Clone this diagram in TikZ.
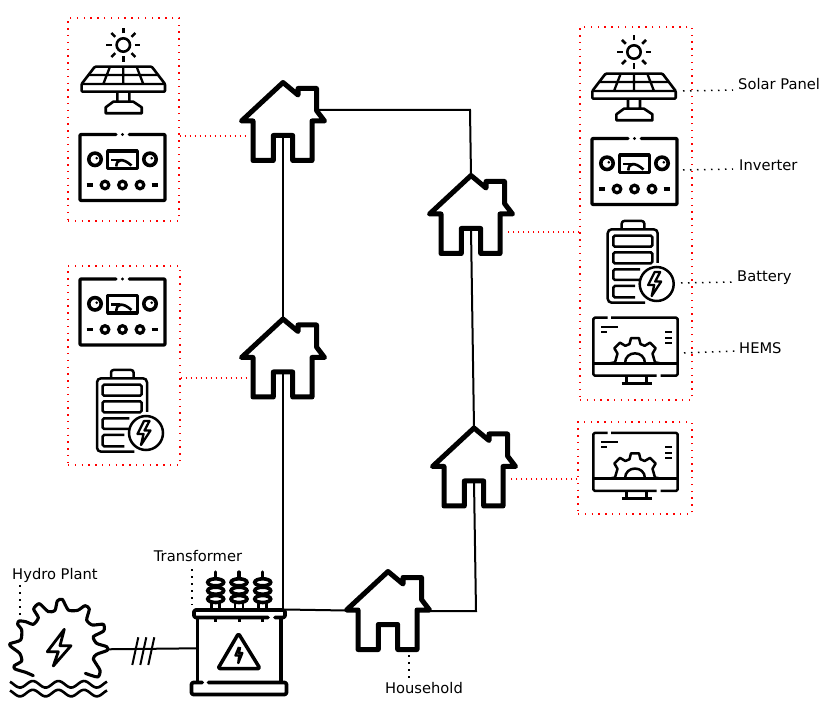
\documentclass[tikz,border=0pt]{standalone}
\usepackage{fontspec}
\setmainfont{DejaVu Sans}
\usetikzlibrary{calc}
\tikzset{
  wire/.style={line width=2pt,black},
  redbox/.style={draw=red,line width=1.4pt,dash pattern=on 1.4pt off 5.4pt},
  redlink/.style={red,line width=1.2pt,dash pattern=on 1.4pt off 3.6pt},
  leader/.style={black,line width=1.5pt,dash pattern=on 1.5pt off 5.5pt},
  lbl/.style={font=\fontsize{14.7pt}{16pt}\selectfont,inner sep=0pt,text=black},
  house/.pic={
    \draw[line width=5pt,line join=round,line cap=round]
      (0,0) -- (15,12.5) -- (15,6) -- (33.5,6) -- (33.5,28) -- (41.5,38.5) -- (29,38.5)
      -- (29,78) -- (9.7,78) -- (9.7,53) -- (-9.7,53) -- (-9.7,78) -- (-30,78)
      -- (-30,38.5) -- (-41.5,38.5) -- cycle;
    \coordinate (-apex) at (0,0);
    \coordinate (-door) at (0,53);
  },
  solarpanel/.pic={
    % sun with eight rays, origin at its centre
    \draw[line width=2.6pt] (0,0) circle (6.7);
    \foreach \a in {0,45,...,315}
      \draw[line width=2.5pt] (\a:11.5) -- (\a:17);
    % photovoltaic sheet
    \draw[line width=2.6pt,line join=round,rounded corners=1pt]
      (-28.5,21.7) -- (28.5,21.7) -- (41.7,39) -- (41.7,46.7) -- (-41.7,46.7) -- (-41.7,39) -- cycle;
    \draw[line width=2.3pt] (-41.7,39) -- (41.7,39) (-35,30) -- (35,30)
      (-13.3,21.7) -- (-20,39) (0,21.7) -- (0,39) (13.3,21.7) -- (20,39);
    % stand
    \draw[line width=2.6pt,line join=round] (-6,46.7) -- (-6,56.7) (6,46.7) -- (6,56.7)
      (-10,56.7) -- (10,56.7) -- (18.4,62.3) -- (18.4,68.3) -- (-17.6,68.3) -- (-17.6,62.3) -- cycle;
  },
  inverter/.pic={
    \draw[line width=3.4pt,line join=round,line cap=round,rounded corners=1pt]
      (-6.5,-33) -- (-42.5,-33) -- (-42.5,33) -- (42.5,33) -- (42.5,-33) -- (6.8,-33);
    \fill (0,-33) circle (1.7);
    \draw[line width=3.6pt] (-27.5,-8.2) circle (6.2) (27.5,-8.2) circle (6.2);
    \draw[line width=1.8pt] (-26.5,-10) -- (-25,-8.5) (28.5,-10) -- (30,-8.5);
    \draw[line width=3.4pt,line join=round] (-14.8,-16.5) rectangle (14.8,1);
    \draw[line width=2.6pt] (-11.2,-7.5) -- (-3,-7.5);
    \draw[line width=2.6pt] (-6.2,-1) .. controls (-6,-8.5) and (0,-10) .. (9,-2);
    \draw[line width=3.2pt] (-17.5,17.5) circle (3.8) (0,17.5) circle (3.8) (17.5,17.5) circle (3.8);
    \draw[line width=3.2pt] (-35.8,17.5) -- (-29.2,17.5) (29.2,17.5) -- (35.8,17.5);
  },
  battery/.pic={
    \draw[line width=2.5pt,line join=round,rounded corners=2.5pt]
      (-11,-36.7) -- (-11,-45) -- (11.6,-45) -- (11.6,-36.7);
    \draw[line width=2.5pt,rounded corners=4pt]
      (12.3,36.7) -- (-25,36.7) -- (-25,-36.7) -- (25,-36.7) -- (25,-3);
    \foreach \t/\b in {-30.3/-19.3,-13.7/-2.7}
      \draw[line width=2.5pt,rounded corners=1.5pt] (-19.4,\t) rectangle (19.6,\b);
    \draw[line width=2.5pt,rounded corners=1.5pt] (7.3,3.3) -- (-19.4,3.3) -- (-19.4,14) -- (7.3,14);
    \draw[line width=2.5pt,rounded corners=1.5pt] (2.3,20) -- (-19.4,20) -- (-19.4,31.3) -- (2.3,31.3);
    \draw[line width=2.5pt] (24,18) circle (17);
    \draw[line width=2.3pt,line join=round]
      (22,6) -- (15.5,19) -- (21.5,19) -- (19,30) -- (28.5,15.5) -- (22.5,15.5) -- (27.5,6) -- cycle;
  },
  hems/.pic={
    % monitor outline, origin at the centre of the screen divider
    \draw[line width=2.5pt,line join=round,rounded corners=1.5pt]
      (-27.3,-45.6) -- (-41.7,-45.6) -- (-41.7,12.4) -- (21.7,12.4)
      (25.7,12.4) -- (42.7,12.4) -- (42.7,-45.6) -- (-24,-45.6);
    \draw[line width=2.5pt] (-41.7,0) -- (42.7,0);
    \draw[line width=2.5pt] (-8.3,12.4) -- (-8.3,20) (11.7,12.4) -- (11.7,20) (-13.3,20) -- (16.7,20);
    \draw[line width=2pt] (-34,-36.6) -- (-16.7,-36.6) (-34,-31.3) -- (-27.7,-31.3)
      (30,-31) -- (37.3,-31) (30,-25.6) -- (37.3,-25.6) (30,-20) -- (37.3,-20);
    % half gear standing on the divider
    \draw[line width=2.5pt,line join=round]
      (-25,0) -- (-20,-1)
      \foreach \a in {-135,-90,-45} { -- (\a-16:20) -- (\a-9:25.5) -- (\a+9:25.5) -- (\a+16:20) }
      -- (20,-1) -- (25,0);
    \draw[line width=2.5pt] (-10,0) .. controls (-10,-13.3) and (10,-13.3) .. (10,0);
  },
  bushing/.pic={
    \draw[line width=3.2pt,line cap=round] (0,1) -- (0,8);
    \foreach \y in {11.3,19.7,28}
      \draw[line width=3.6pt,fill=white] (0,\y) ellipse (8 and 3.5);
    \draw[line width=2.6pt] (-4,31) -- (-4,37) (4,31) -- (4,37);
    \draw[line width=3pt] (0,45) -- (0,51);
  },
}
\begin{document}
\begin{tikzpicture}[x=1pt,y=-1pt]
\useasboundingbox (0,0) rectangle (831,719);

% houses
\pic (h1) at (283,82.5) {house};
\pic (h2) at (283,319) {house};
\pic (h3) at (471,175.5) {house};
\pic (h4) at (474,428) {house};
\pic (h5) at (388,571.5) {house};

% transformer
\foreach \x in {215.7,239,262.7} \pic at (\x,571) {bushing};
\draw[line width=3.6pt,line join=round,line cap=round,rounded corners=1.5pt]
  (268,617.5) -- (194,617.5) -- (194,610) -- (285,610) -- (285,617.5) -- (275,617.5);
\draw[line width=3.5pt] (197.7,618) -- (197.7,681) (281,618) -- (281,681);
\draw[line width=3.6pt,line join=round,line cap=round,rounded corners=1.5pt]
  (202.3,682.5) -- (191.5,682.5) -- (191.5,694.5) -- (286.5,694.5) -- (286.5,682.5) -- (208.3,682.5);
\draw[line width=3.5pt,line join=round,rounded corners=1.5pt]
  (238.5,633.5) -- (260,668.5) -- (218,668.5) -- cycle;
\draw[line width=2.4pt,line join=round]
  (239,647) -- (235.5,655.5) -- (239.3,655.5) -- (238.3,663) -- (242.3,653) -- (239,653) -- (240,647);

% hydro plant: cog wheel, bolt and water
\begin{scope}[xshift=5pt,yshift=-595pt,x=0.3333pt,y=-0.3333pt]
\draw[line width=3.1pt,line join=round,line cap=round]
  plot[smooth,tension=0.4] coordinates {
    (85,242) (62,232) (30,222) (28,212) (50,198) (44,175) (18,155) (15,146) (47,135)
    (50,105) (38,88) (42,78) (62,80) (85,88) (100,68) (86,42) (103,26) (130,50)
    (150,46) (157,18) (172,13) (190,45) (218,46) (240,32) (253,42) (245,75) (262,90)
    (295,88) (296,108) (265,125) (275,145) (305,155) (307,166) (275,178) (265,192)
    (285,226) (278,246) (241,235)};
\end{scope}
\draw[line width=2.8pt,line join=round]
  (64.3,629.3) -- (47.3,651.7) -- (58.3,651.7) -- (53.3,666) -- (71,645.7) -- (60,645.7) -- cycle;
\foreach \y in {684.3,693.1}
  \draw[line width=2.6pt] plot[smooth,domain=-0.39:3.4,samples=46] ({20+\x*25.6},{\y+3.3*cos(360*\x)});

% power lines
\coordinate (busL) at (285,609.5);
\coordinate (corner) at (470,110);
\coordinate (roof) at (317,110);
\coordinate (turn) at (476,611);
\coordinate (eave) at (430,611);
\coordinate (gridIn) at (346,610.5);
\coordinate (genOut) at (106.7,649.3);
\coordinate (trIn) at (196.7,648.3);
\coordinate (trTop) at (283,609.5);
\draw[wire] (h1-door) -- (h2-apex);
\draw[wire] (h2-door) -- (trTop);
\draw[wire] (busL) -- (gridIn);
\draw[wire] (roof) -- (corner) -- (h3-apex);
\draw[wire] (h3-door) -- (h4-apex);
\draw[wire] (h4-door) -- (turn) -- (eave);
\draw[wire] (genOut) -- (trIn);
\foreach \x in {0,8,16}
  \draw[wire] (132.3+\x,665) -- (138.3+\x,637.3);

% device groups
\pic at (123.3,45) {solarpanel};
\pic at (122.5,167.5) {inverter};
\pic at (122.5,312) {inverter};
\pic at (122,415) {battery};
\pic at (634,52) {solarpanel};
\pic at (634.5,171.5) {inverter};
\pic at (632.7,266) {battery};
\pic at (635,363.3) {hems};
\pic at (635,478.5) {hems};

% dotted enclosures and their links
\node[redbox,minimum width=111pt,minimum height=203pt,inner sep=0pt] (box1) at (123.5,119.5) {};
\node[redbox,minimum width=112pt,minimum height=199pt,inner sep=0pt] (box2) at (124,365.5) {};
\node[redbox,minimum width=112pt,minimum height=373pt,inner sep=0pt] (box3) at (636,213.5) {};
\node[redbox,minimum width=114pt,minimum height=92pt,inner sep=0pt] (box4) at (635,468) {};
\coordinate (r1) at (248,136);
\coordinate (r2) at (250,378);
\coordinate (r3) at (505,232);
\coordinate (r4) at (508,479);
\draw[redlink] (box1.east |- r1) -- (r1);
\draw[redlink] (box2.east |- r2) -- (r2);
\draw[redlink] (box3.west |- r3) -- (r3);
\draw[redlink] (box4.west |- r4) -- (r4);

% labels and their dotted leaders
\node[lbl,anchor=west] (lsolar) at (738,84) {Solar Panel};
\node[lbl,anchor=west] (linv) at (739,165) {Inverter};
\node[lbl,anchor=west] (lbat) at (737,277.5) {Battery};
\node[lbl,anchor=west] (lhems) at (739,348) {HEMS};
\node[lbl] (ltr) at (198,556) {Transformer};
\node[lbl] (lhy) at (55,575) {Hydro Plant};
\node[lbl] (lho) at (424,688) {Household};
\coordinate (a1) at (683,91);   \coordinate (b1) at (733,90);
\coordinate (a2) at (683,170);  \coordinate (b2) at (733,169);
\coordinate (a3) at (681,283);  \coordinate (b3) at (733,282);
\coordinate (a4) at (684,353);  \coordinate (b4) at (735,351);
\coordinate (a5) at (192,569);  \coordinate (b5) at (192,605);
\coordinate (a6) at (20,585);   \coordinate (b6) at (20,617);
\coordinate (a7) at (409,655);  \coordinate (b7) at (409,680);
\foreach \i in {1,...,7} \draw[leader] (a\i) -- (b\i);
\end{tikzpicture}
\end{document}
